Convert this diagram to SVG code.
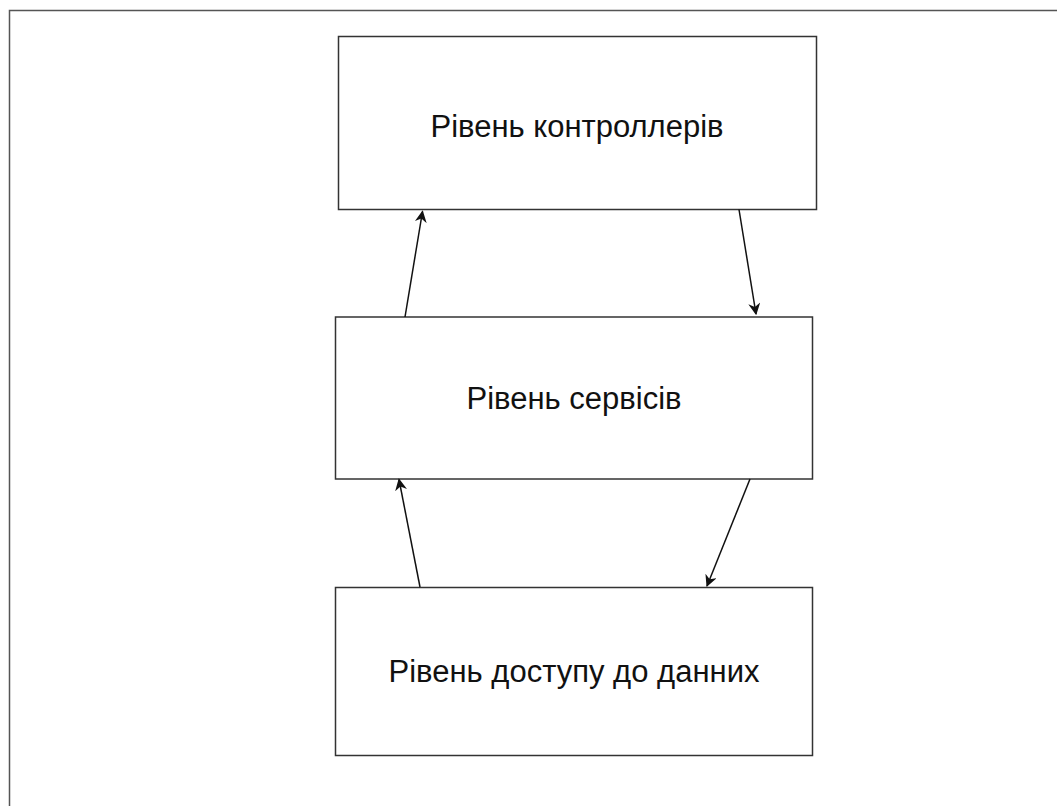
<svg xmlns="http://www.w3.org/2000/svg" width="1057" height="806" viewBox="0 0 1057 806">
<defs>
<style>
.frame{fill:none;stroke:#555;stroke-width:1.5}
.box{fill:#fff;stroke:#333;stroke-width:1.5}
.lbl{font-family:"Liberation Sans",Arial,sans-serif;font-size:31px;fill:#111;text-anchor:middle;dominant-baseline:central}
.edge{stroke:#111;stroke-width:1.5;fill:none;marker-end:url(#ah)}
</style>
<marker id="ah" viewBox="0 0 10 10" refX="9" refY="5" markerWidth="12" markerHeight="12" markerUnits="userSpaceOnUse" orient="auto">
<path d="M0,0 L10,5 L0,10 L3,5 Z" fill="#111"/>
</marker>
</defs>
<rect width="1057" height="806" fill="#fff"/>
<path class="frame" d="M9.5,806 V10.5 H1057"/>
<g id="controllers">
<rect class="box" x="338.5" y="36.5" width="478" height="173"/>
<text class="lbl" x="577" y="126">Рівень контроллерів</text>
</g>
<g id="services">
<rect class="box" x="335.5" y="317" width="477" height="162"/>
<text class="lbl" x="574" y="398">Рівень сервісів</text>
</g>
<g id="dal">
<rect class="box" x="335.5" y="587.5" width="477" height="168"/>
<text class="lbl" x="574" y="671">Рівень доступу до данних</text>
</g>
<g id="connectors">
<line class="edge" x1="405" y1="317" x2="422.5" y2="211.5"/>
<line class="edge" x1="739" y1="209.5" x2="756" y2="314"/>
<line class="edge" x1="420" y1="587" x2="399" y2="479.5"/>
<line class="edge" x1="750" y1="479" x2="707" y2="586"/>
</g>
</svg>
